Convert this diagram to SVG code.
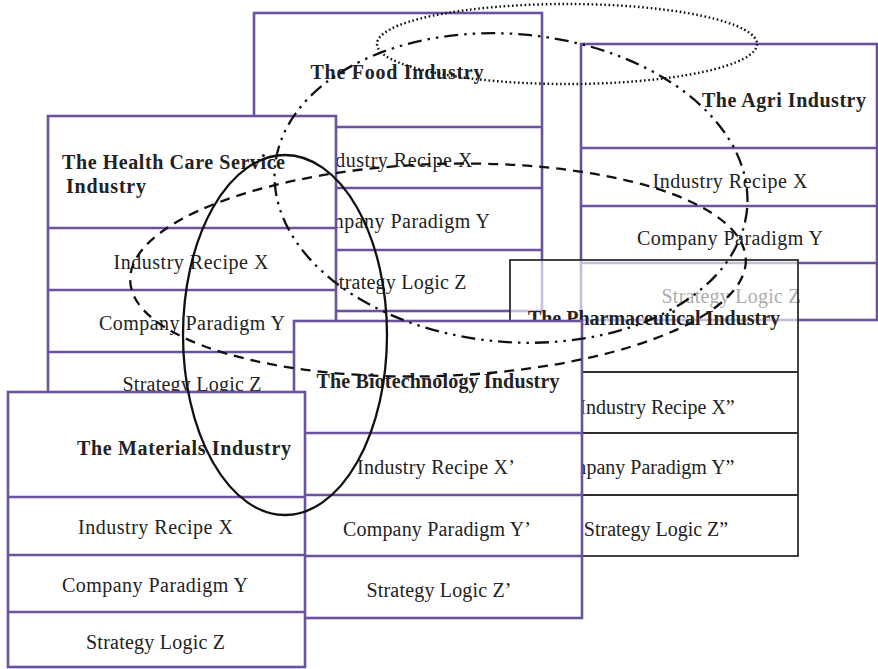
<svg xmlns="http://www.w3.org/2000/svg" width="878" height="669" viewBox="0 0 878 669">
  <defs>
    <style>
      .frame { fill: #ffffff; stroke: #6b529e; stroke-width: 2.6; }
      .div { stroke: #6b529e; stroke-width: 2.6; }
      .frame-k { fill: #ffffff; fill-opacity: 0.62; stroke: #2e2e2e; stroke-width: 1.8; }
      .frame-w { fill: #ffffff; stroke: #6b529e; stroke-width: 2.6; }
      .div-k { stroke: #2e2e2e; stroke-width: 1.8; }
      text { font-family: "Liberation Serif", "Times New Roman", serif; font-size: 20px; fill: #222222; }
      .c { text-anchor: middle; }
      .h { font-weight: bold; }
      .link { fill: none; stroke: #111111; stroke-width: 2.3; }
      .dotted { stroke-dasharray: 1.6 2.6; stroke-width: 2.4; }
      .dashed { stroke-dasharray: 10 7; }
      .dashdot { stroke-dasharray: 14 6 2.5 6 2.5 6; }
    </style>
  </defs>

  <!-- Food industry -->
  <g id="food">
    <rect class="frame" x="254" y="13" width="288" height="298"/>
    <line class="div" x1="254" y1="127" x2="542" y2="127"/>
    <line class="div" x1="254" y1="188" x2="542" y2="188"/>
    <line class="div" x1="254" y1="250" x2="542" y2="250"/>
    <text class="c h" x="397" y="79" textLength="173">The Food Industry</text>
    <text class="c" x="395" y="167" textLength="155">Industry Recipe X</text>
    <text class="c" x="397" y="228" textLength="186">Company Paradigm Y</text>
    <text class="c" x="397" y="289" textLength="139">Strategy Logic Z</text>
  </g>

  <!-- Agri industry -->
  <g id="agri">
    <rect class="frame" x="581" y="44" width="296" height="276"/>
    <line class="div" x1="581" y1="148" x2="877" y2="148"/>
    <line class="div" x1="581" y1="206" x2="877" y2="206"/>
    <line class="div" x1="581" y1="263" x2="877" y2="263"/>
    <text class="c h" x="784" y="107" textLength="164">The Agri Industry</text>
    <text class="c" x="730" y="188" textLength="155">Industry Recipe X</text>
    <text class="c" x="730" y="245" textLength="186">Company Paradigm Y</text>
    <text class="c" x="731" y="303" textLength="139">Strategy Logic Z</text>
  </g>

  <!-- Health care service industry -->
  <g id="health">
    <rect class="frame" x="48" y="116" width="288" height="298"/>
    <line class="div" x1="48" y1="228" x2="336" y2="228"/>
    <line class="div" x1="48" y1="290" x2="336" y2="290"/>
    <line class="div" x1="48" y1="352" x2="336" y2="352"/>
    <text class="h" x="62" y="169" textLength="223">The Health Care Service</text>
    <text class="h" x="66" y="193" textLength="80">Industry</text>
    <text class="c" x="191" y="269" textLength="155">Industry Recipe X</text>
    <text class="c" x="192" y="330" textLength="186">Company Paradigm Y</text>
    <text class="c" x="192" y="391" textLength="139">Strategy Logic Z</text>
  </g>

  <!-- Pharmaceutical industry (translucent panel) -->
  <g id="pharma">
    <rect class="frame-k" x="510" y="260" width="288" height="296"/>
    <line class="div-k" x1="510" y1="372" x2="798" y2="372"/>
    <line class="div-k" x1="510" y1="433" x2="798" y2="433"/>
    <line class="div-k" x1="510" y1="495" x2="798" y2="495"/>
    <text class="c h" x="654" y="325">The Pharmaceutical Industry</text>
    <text class="c" x="657" y="414">Industry Recipe X”</text>
    <text class="c" x="641" y="474">Company Paradigm Y”</text>
    <text class="c" x="656" y="536">Strategy Logic Z”</text>
  </g>

  <!-- Biotechnology industry -->
  <g id="biotech">
    <rect class="frame-w" x="294" y="321" width="288" height="297"/>
    <line class="div" x1="294" y1="433" x2="582" y2="433"/>
    <line class="div" x1="294" y1="495" x2="582" y2="495"/>
    <line class="div" x1="294" y1="556" x2="582" y2="556"/>
    <text class="c h" x="438" y="388" textLength="243">The Biotechnology Industry</text>
    <text class="c" x="436" y="474" textLength="158">Industry Recipe X’</text>
    <text class="c" x="437" y="536" textLength="188">Company Paradigm Y’</text>
    <text class="c" x="439" y="597" textLength="145">Strategy Logic Z’</text>
  </g>

  <!-- Materials industry -->
  <g id="materials">
    <rect class="frame" x="8" y="392" width="297" height="275"/>
    <line class="div" x1="8" y1="497" x2="305" y2="497"/>
    <line class="div" x1="8" y1="555" x2="305" y2="555"/>
    <line class="div" x1="8" y1="612" x2="305" y2="612"/>
    <text class="c h" x="184" y="455" textLength="214">The Materials Industry</text>
    <text class="c" x="155.5" y="534" textLength="155">Industry Recipe X</text>
    <text class="c" x="155" y="592" textLength="186">Company Paradigm Y</text>
    <text class="c" x="155.5" y="649" textLength="139">Strategy Logic Z</text>
  </g>

  <!-- Grouping outlines -->
  <g id="connectors">
    <ellipse class="link dotted" cx="567" cy="44" rx="190" ry="40"/>
    <ellipse class="link dashdot" cx="511" cy="188" rx="237" ry="154" transform="rotate(5 511 188)"/>
    <ellipse class="link dashed" cx="438" cy="270" rx="308" ry="106" transform="rotate(-2 438 270)"/>
    <ellipse class="link" cx="285" cy="335" rx="102" ry="180"/>
  </g>
</svg>
